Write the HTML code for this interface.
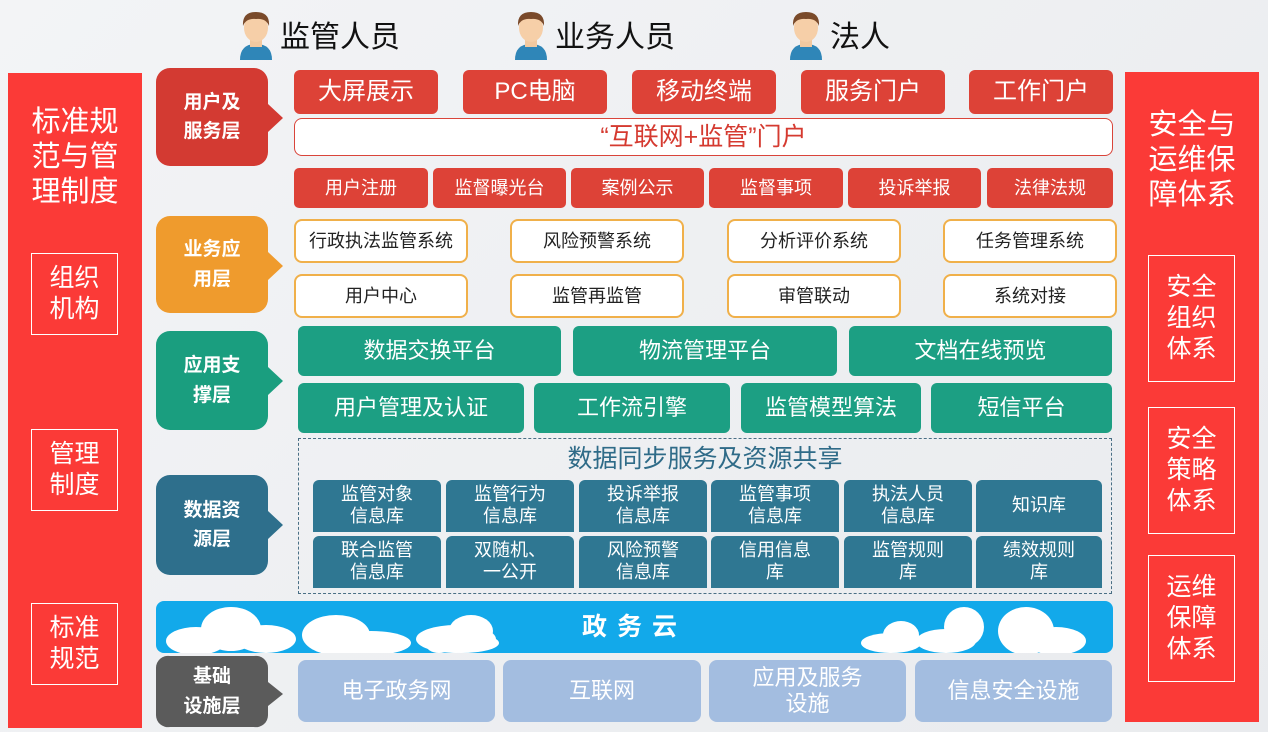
<!DOCTYPE html>
<html><head><meta charset="utf-8"><style>
*{margin:0;padding:0;box-sizing:border-box}
body{width:1268px;height:732px;overflow:hidden;background:linear-gradient(135deg,#f3f4f6,#e9ebee);font-family:"Liberation Sans","Noto Sans CJK SC",sans-serif;position:relative}
.a{position:absolute;display:flex;align-items:center;justify-content:center;text-align:center;line-height:1.15}
.r{background:#dd4237;color:#fff;border-radius:6px;font-size:24px}
.r2{background:#dd4237;color:#fff;border-radius:5px;font-size:18px}
.o{background:#fff;border:2px solid #f0b04a;border-radius:8px;font-size:18px;color:#222}
.g{background:#1c9f83;color:#fff;border-radius:6px;font-size:22px}
.d{background:#2f7792;color:#fff;border-radius:6px 6px 0 0;font-size:18px;line-height:1.2}
.i{background:#a3bde0;color:#fff;border-radius:8px;font-size:22px;line-height:1.2}
.lab{color:#fff;font-weight:bold;font-size:19px;line-height:1.55}
.side{background:#fb3a37;color:#fff}
.sb{border:1.5px solid #fff;color:#fff;font-size:25px;line-height:1.25}
.p{position:absolute;top:8px;font-size:30px;color:#111;display:flex;align-items:center}
</style></head><body>

<div class="p" style="left:236px"><svg width="40" height="52" viewBox="0 0 40 52"><path d="M4 52 Q4 36 20 36 Q36 36 36 52Z" fill="#2f86b8"/><rect x="14" y="32" width="12" height="7" fill="#f2c9a0"/><ellipse cx="20" cy="20" rx="12" ry="14" fill="#f6cfa8"/><path d="M7 18 Q6 4 20 4 Q34 4 33 18 Q30 10 20 11 Q10 10 7 18Z" fill="#7a4a2a"/></svg><span style="margin-left:4px">监管人员</span></div>
<div class="p" style="left:511px"><svg width="40" height="52" viewBox="0 0 40 52"><path d="M4 52 Q4 36 20 36 Q36 36 36 52Z" fill="#2f86b8"/><rect x="14" y="32" width="12" height="7" fill="#f2c9a0"/><ellipse cx="20" cy="20" rx="12" ry="14" fill="#f6cfa8"/><path d="M7 18 Q6 4 20 4 Q34 4 33 18 Q30 10 20 11 Q10 10 7 18Z" fill="#7a4a2a"/></svg><span style="margin-left:4px">业务人员</span></div>
<div class="p" style="left:786px"><svg width="40" height="52" viewBox="0 0 40 52"><path d="M4 52 Q4 36 20 36 Q36 36 36 52Z" fill="#2f86b8"/><rect x="14" y="32" width="12" height="7" fill="#f2c9a0"/><ellipse cx="20" cy="20" rx="12" ry="14" fill="#f6cfa8"/><path d="M7 18 Q6 4 20 4 Q34 4 33 18 Q30 10 20 11 Q10 10 7 18Z" fill="#7a4a2a"/></svg><span style="margin-left:4px">法人</span></div>

<!-- left panel -->
<div class="a side" style="left:8px;top:73px;width:134px;height:655px;display:block">
<div style="position:absolute;left:0;top:32px;width:134px;text-align:center;font-size:29px;line-height:1.2">标准规<br>范与管<br>理制度</div>
<div class="a sb" style="left:23px;top:180px;width:87px;height:82px">组织<br>机构</div>
<div class="a sb" style="left:23px;top:356px;width:87px;height:82px">管理<br>制度</div>
<div class="a sb" style="left:23px;top:530px;width:87px;height:82px">标准<br>规范</div>
</div>
<!-- right panel -->
<div class="a side" style="left:1125px;top:72px;width:134px;height:650px;display:block">
<div style="position:absolute;left:0;top:36px;width:134px;text-align:center;font-size:29px;line-height:1.2">安全与<br>运维保<br>障体系</div>
<div class="a sb" style="left:23px;top:183px;width:87px;height:127px">安全<br>组织<br>体系</div>
<div class="a sb" style="left:23px;top:335px;width:87px;height:127px">安全<br>策略<br>体系</div>
<div class="a sb" style="left:23px;top:483px;width:87px;height:127px">运维<br>保障<br>体系</div>
</div>

<!-- layer labels -->
<svg style="position:absolute;left:0;top:0" width="300" height="732">
<path d="M170 68h84a14 14 0 0 1 14 14v22l15 14l-15 14v20a14 14 0 0 1-14 14h-84a14 14 0 0 1-14-14v-70a14 14 0 0 1 14-14z" fill="#d33a32"/>
<path d="M170 216h84a14 14 0 0 1 14 14v22l15 14l-15 14v19a14 14 0 0 1-14 14h-84a14 14 0 0 1-14-14v-69a14 14 0 0 1 14-14z" fill="#ef9b2d"/>
<path d="M170 331h84a14 14 0 0 1 14 14v22l15 14l-15 14v21a14 14 0 0 1-14 14h-84a14 14 0 0 1-14-14v-71a14 14 0 0 1 14-14z" fill="#1a9e7f"/>
<path d="M170 475h84a14 14 0 0 1 14 14v22l15 14l-15 14v22a14 14 0 0 1-14 14h-84a14 14 0 0 1-14-14v-72a14 14 0 0 1 14-14z" fill="#2e6f8c"/>
<path d="M170 656h84a12 12 0 0 1 14 12v14l15 12l-15 12v9a12 12 0 0 1-14 12h-84a12 12 0 0 1-14-12v-47a12 12 0 0 1 14-12z" fill="#5b5b5b"/>
</svg>
<div class="a lab" style="left:156px;top:68px;width:112px;height:98px">用户及<br>服务层</div>
<div class="a lab" style="left:156px;top:216px;width:112px;height:97px">业务应<br>用层</div>
<div class="a lab" style="left:156px;top:331px;width:112px;height:99px">应用支<br>撑层</div>
<div class="a lab" style="left:156px;top:475px;width:112px;height:100px">数据资<br>源层</div>
<div class="a lab" style="left:156px;top:656px;width:112px;height:71px">基础<br>设施层</div>

<!-- layer 1 -->
<div class="a r" style="left:294px;top:70px;width:144px;height:44px">大屏展示</div>
<div class="a r" style="left:463px;top:70px;width:144px;height:44px">PC电脑</div>
<div class="a r" style="left:632px;top:70px;width:144px;height:44px">移动终端</div>
<div class="a r" style="left:801px;top:70px;width:144px;height:44px">服务门户</div>
<div class="a r" style="left:969px;top:70px;width:144px;height:44px">工作门户</div>
<div class="a" style="left:294px;top:118px;width:819px;height:38px;background:#fff;border:1.5px solid #d9443a;border-radius:8px;color:#d53a30;font-size:25px">“互联网+监管”门户</div>
<div class="a r2" style="left:294px;top:168px;width:134px;height:40px">用户注册</div>
<div class="a r2" style="left:433px;top:168px;width:133px;height:40px">监督曝光台</div>
<div class="a r2" style="left:571px;top:168px;width:133px;height:40px">案例公示</div>
<div class="a r2" style="left:709px;top:168px;width:134px;height:40px">监督事项</div>
<div class="a r2" style="left:848px;top:168px;width:133px;height:40px">投诉举报</div>
<div class="a r2" style="left:987px;top:168px;width:126px;height:40px">法律法规</div>

<!-- layer 2 -->
<div class="a o" style="left:294px;top:219px;width:174px;height:44px">行政执法监管系统</div>
<div class="a o" style="left:510px;top:219px;width:174px;height:44px">风险预警系统</div>
<div class="a o" style="left:727px;top:219px;width:174px;height:44px">分析评价系统</div>
<div class="a o" style="left:943px;top:219px;width:174px;height:44px">任务管理系统</div>
<div class="a o" style="left:294px;top:274px;width:174px;height:44px">用户中心</div>
<div class="a o" style="left:510px;top:274px;width:174px;height:44px">监管再监管</div>
<div class="a o" style="left:727px;top:274px;width:174px;height:44px">审管联动</div>
<div class="a o" style="left:943px;top:274px;width:174px;height:44px">系统对接</div>

<!-- layer 3 -->
<div class="a g" style="left:298px;top:326px;width:263px;height:50px">数据交换平台</div>
<div class="a g" style="left:573px;top:326px;width:264px;height:50px">物流管理平台</div>
<div class="a g" style="left:849px;top:326px;width:263px;height:50px">文档在线预览</div>
<div class="a g" style="left:298px;top:383px;width:226px;height:50px">用户管理及认证</div>
<div class="a g" style="left:534px;top:383px;width:196px;height:50px">工作流引擎</div>
<div class="a g" style="left:741px;top:383px;width:180px;height:50px">监管模型算法</div>
<div class="a g" style="left:931px;top:383px;width:181px;height:50px">短信平台</div>

<!-- layer 4 -->
<div style="position:absolute;left:298px;top:438px;width:814px;height:156px;border:1.5px dashed #4a6f85"></div>
<div class="a" style="left:298px;top:442px;width:814px;height:34px;font-size:25px;color:#2f6b88">数据同步服务及资源共享</div>
<div class="a d" style="left:313px;top:480px;width:128px;height:52px">监管对象<br>信息库</div>
<div class="a d" style="left:446px;top:480px;width:128px;height:52px">监管行为<br>信息库</div>
<div class="a d" style="left:579px;top:480px;width:128px;height:52px">投诉举报<br>信息库</div>
<div class="a d" style="left:711px;top:480px;width:128px;height:52px">监管事项<br>信息库</div>
<div class="a d" style="left:844px;top:480px;width:128px;height:52px">执法人员<br>信息库</div>
<div class="a d" style="left:976px;top:480px;width:126px;height:52px">知识库</div>
<div class="a d" style="left:313px;top:536px;width:128px;height:52px">联合监管<br>信息库</div>
<div class="a d" style="left:446px;top:536px;width:128px;height:52px">双随机、<br>一公开</div>
<div class="a d" style="left:579px;top:536px;width:128px;height:52px">风险预警<br>信息库</div>
<div class="a d" style="left:711px;top:536px;width:128px;height:52px">信用信息<br>库</div>
<div class="a d" style="left:844px;top:536px;width:128px;height:52px">监管规则<br>库</div>
<div class="a d" style="left:976px;top:536px;width:126px;height:52px">绩效规则<br>库</div>

<!-- cloud band -->
<div style="position:absolute;left:156px;top:601px;width:957px;height:52px;background:#12a9ea;border-radius:8px;overflow:hidden">
<svg width="957" height="52" style="position:absolute;left:0;top:0">
<g fill="#fff">
<ellipse cx="40" cy="40" rx="30" ry="14"/><ellipse cx="75" cy="28" rx="30" ry="22"/><ellipse cx="110" cy="38" rx="30" ry="14"/>
<ellipse cx="180" cy="34" rx="34" ry="20"/><ellipse cx="215" cy="42" rx="40" ry="12"/>
<ellipse cx="300" cy="38" rx="40" ry="14"/><ellipse cx="315" cy="30" rx="22" ry="16"/>
<ellipse cx="283" cy="42" rx="14" ry="10"/><ellipse cx="305" cy="42" rx="38" ry="10"/>
<ellipse cx="735" cy="42" rx="30" ry="10"/><ellipse cx="745" cy="34" rx="18" ry="14"/>
<ellipse cx="790" cy="40" rx="30" ry="12"/><ellipse cx="808" cy="26" rx="20" ry="20"/>
<ellipse cx="870" cy="30" rx="28" ry="24"/><ellipse cx="900" cy="40" rx="30" ry="14"/>
</g></svg>
<div class="a" style="left:0;top:0;width:957px;height:52px;color:#fff;font-size:25px;font-weight:bold;letter-spacing:10px">政务云</div>
</div>

<!-- layer 5 -->
<div class="a i" style="left:298px;top:660px;width:197px;height:62px">电子政务网</div>
<div class="a i" style="left:503px;top:660px;width:198px;height:62px">互联网</div>
<div class="a i" style="left:709px;top:660px;width:197px;height:62px">应用及服务<br>设施</div>
<div class="a i" style="left:915px;top:660px;width:197px;height:62px">信息安全设施</div>

</body></html>
